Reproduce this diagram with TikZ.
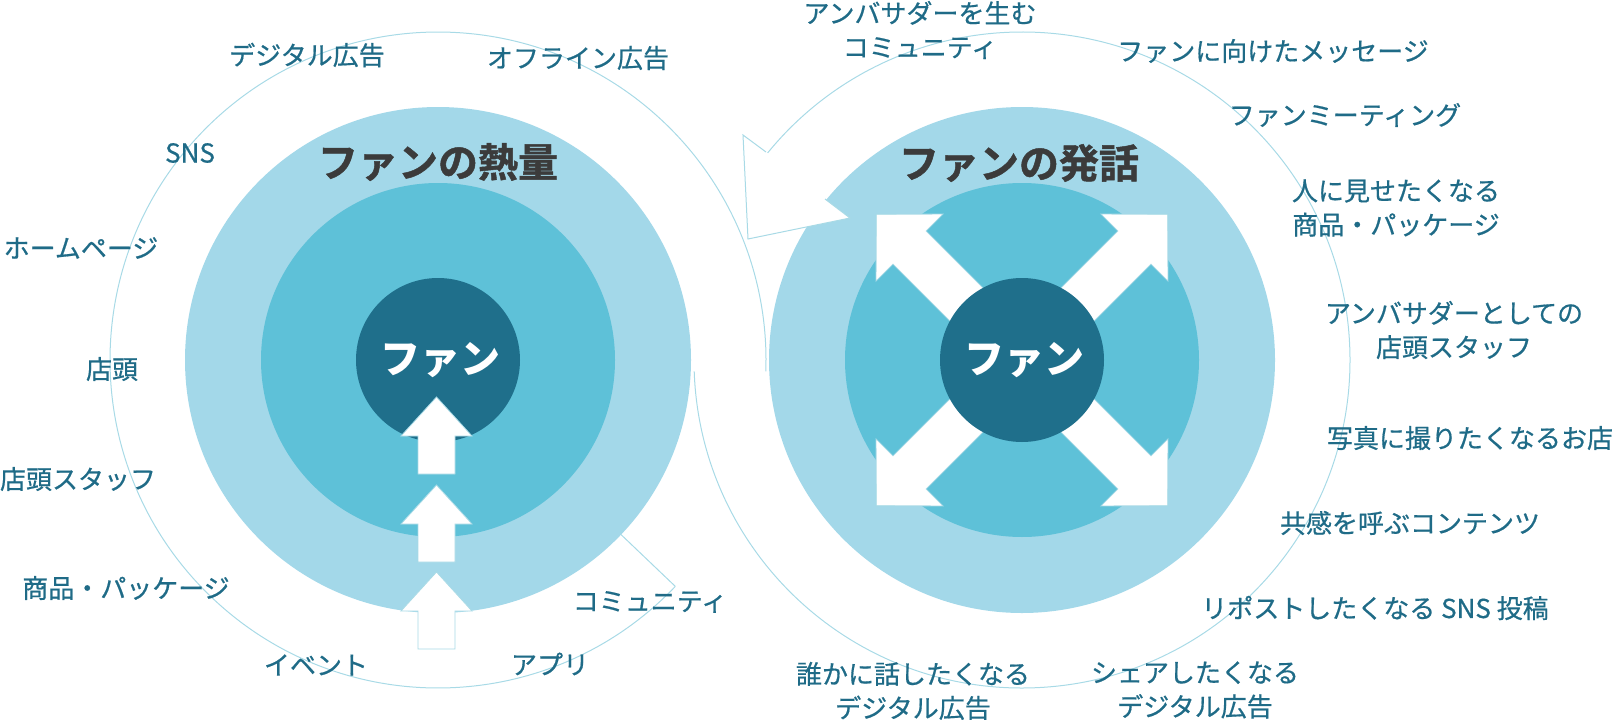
\documentclass[tikz,border=0pt]{standalone}
\usepackage{fontspec}
\setmainfont{Noto Sans CJK JP}
\newfontfamily\itemfont{Noto Sans CJK JP}[FakeBold=0.6]
\newfontfamily\headfont{Noto Sans CJK JP Bold}[FakeBold=1.2]

\definecolor{lightc}{HTML}{A3D8E9}
\definecolor{midc}{HTML}{5EC1D8}
\definecolor{corec}{HTML}{1F6F8B}
\definecolor{textc}{HTML}{1F6B87}
\definecolor{headc}{HTML}{3B3B3B}
\definecolor{ringc}{HTML}{A8DAE6}

\begin{document}
\begin{tikzpicture}[x=1pt, y=-1pt,
        outer/.style={circle, fill=lightc, minimum size=506pt, inner sep=0pt},
        middle/.style={circle, fill=midc, minimum size=354pt, inner sep=0pt},
        core/.style={circle, fill=corec, minimum size=164pt, inner sep=0pt},
        ring/.style={draw=ringc, line width=1pt},
        whitearrow/.style={fill=white, draw=ringc, line width=0.8pt},
        item/.style={text=textc, font=\itemfont\fontsize{26}{34}\selectfont, align=center, inner sep=0pt},
        heading/.style={text=headc, font=\headfont\fontsize{40}{40}\selectfont, inner sep=0pt},
        fan/.style={text=white, font=\fontsize{40}{40}\selectfont\bfseries, inner sep=0pt}
    ]
    \useasboundingbox (0,0) rectangle (1615,720);

    % Loop outline
    \coordinate (lc) at (438,360);
    \coordinate (rc) at (1022,360);
    \draw[ring] (lc) ++(43.65:328) arc[start angle=43.65, end angle=362, radius=328];
    \draw[ring] (lc) ++(43.65:328) -- ++(223.65:80);
    \draw[ring] (rc) ++(178:328) arc[start angle=178, end angle=-140.9, radius=328];

    % Circles
    \node[outer] (lout) at (lc) {};
    \node[middle] (lmid) at (lc) {};
    \node[core] (lcore) at (lc) {};
    \node[outer] (rout) at (rc) {};
    \node[middle] (rmid) at (rc) {};

    % Arrows
    \foreach \a in {45,135,225,315}
        \draw[whitearrow, rotate around={\a:(rc)}] (rc) ++(0,-23.4) -- ++(159,0) -- ++(0,-24) -- ++(47,47.4) -- ++(-47,47.4) -- ++(0,-24) -- ++(-159,0) -- cycle;
    \node[core] (rcore) at (rc) {};
    \foreach \y in {397,485,572}
        \draw[whitearrow] (436.5,\y) -- ++(35.5,39) -- ++(-17,0) -- ++(0,38) -- ++(-37,0) -- ++(0,-38) -- ++(-17,0) -- cycle;
    \fill[white] (766,152) -- (743,135) -- (748,239) -- (850,218) -- (825,199) -- cycle;
    \draw[ring] (766,152) -- (743,135) -- (748,239) -- (850,218) -- (825,199);

    % Titles
    \node[heading] (lhead) at (438,162) {ファンの熱量};
    \node[heading] (rhead) at (1019,163) {ファンの発話};
    \node[fan] (lfan) at (440,360) {ファン};
    \node[fan] (rfan) at (1024,360) {ファン};

    % Left labels
    \node[item] (ldigital) at (307,55) {デジタル広告};
    \node[item] (loffline) at (578,58) {オフライン広告};
    \node[item] (lsns) at (190,153) {SNS};
    \node[item] (lhome) at (81,248) {ホームページ};
    \node[item] (lshop) at (112,369) {店頭};
    \node[item] (lstaff) at (78,479) {店頭スタッフ};
    \node[item] (lgoods) at (126,588) {商品・パッケージ};
    \node[item] (levent) at (316,665) {イベント};
    \node[item] (lapp) at (550,664) {アプリ};
    \node[item] (lcommunity) at (650,602) {コミュニティ};

    % Right labels
    \node[item] (rcommunity) at (920,30) {アンバサダーを生む\\コミュニティ};
    \node[item] (rmessage) at (1273,51) {ファンに向けたメッセージ};
    \node[item] (rmeeting) at (1345,115) {ファンミーティング};
    \node[item] (rgoods) at (1396,208) {人に見せたくなる\\商品・パッケージ};
    \node[item] (rstaff) at (1454,330) {アンバサダーとしての\\店頭スタッフ};
    \node[item] (rphoto) at (1470,438) {写真に撮りたくなるお店};
    \node[item] (rcontent) at (1410,523) {共感を呼ぶコンテンツ};
    \node[item] (rrepost) at (1375,608) {リポストしたくなる SNS 投稿};
    \node[item] (rtalk) at (913,691) {誰かに話したくなる\\デジタル広告};
    \node[item] (rshare) at (1195,690) {シェアしたくなる\\デジタル広告};

\end{tikzpicture}
\end{document}
